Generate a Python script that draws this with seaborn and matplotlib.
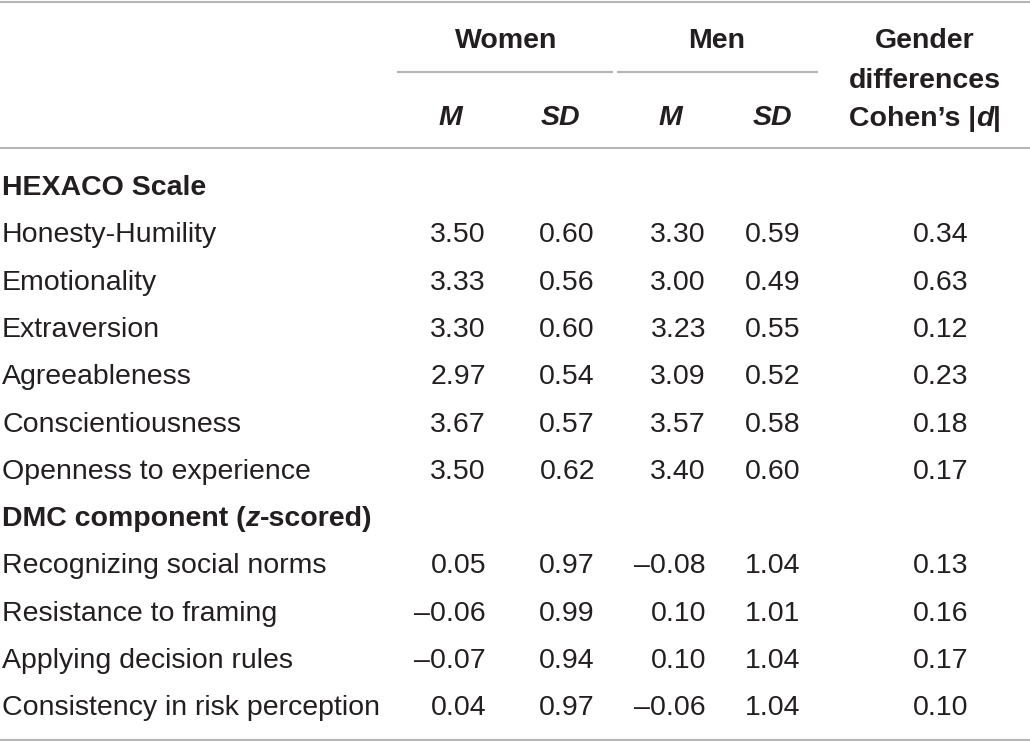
import matplotlib
matplotlib.use("Agg")
import matplotlib.pyplot as plt
import seaborn as sns

# table data
section_titles = ["HEXACO Scale", "DMC component"]
hexaco_rows = ["Honesty-Humility", "Emotionality", "Extraversion",
               "Agreeableness", "Conscientiousness", "Openness to experience"]
dmc_rows = ["Recognizing social norms", "Resistance to framing",
            "Applying decision rules", "Consistency in risk perception"]
women_m = [3.50, 3.33, 3.30, 2.97, 3.67, 3.50, 0.05, -0.06, -0.07, 0.04]
women_sd = [0.60, 0.56, 0.60, 0.54, 0.57, 0.62, 0.97, 0.99, 0.94, 0.97]
men_m = [3.30, 3.00, 3.23, 3.09, 3.57, 3.40, -0.08, 0.10, 0.10, -0.06]
men_sd = [0.59, 0.49, 0.55, 0.52, 0.58, 0.60, 1.04, 1.01, 1.04, 1.04]
cohen_d = [0.34, 0.63, 0.12, 0.23, 0.18, 0.17, 0.13, 0.16, 0.17, 0.10]

sns.set_theme(style="white")
plt.rcParams["font.family"] = ["Liberation Sans", "DejaVu Sans"]

TXT = "#231f20"
RULE = "#b5b5b5"
FS = 20.5

fig = plt.figure(figsize=(10.30, 7.41), dpi=100)
ax = fig.add_axes([0, 0, 1, 1])
ax.set_xlim(0, 1030)
ax.set_ylim(741, 0)
ax.axis("off")
renderer = fig.canvas.get_renderer()


def fmt(v):
    return f"{v:.2f}".replace("-", "\u2013")


def runs(x, y, parts, ha="left"):
    # parts: (text, style) drawn one after another, bold
    arts = []
    for s, style in parts:
        t = ax.text(0, y, s, fontsize=FS, fontweight="bold", fontstyle=style,
                    color=TXT, va="baseline", ha="left")
        arts.append(t)
    widths = [a.get_window_extent(renderer).width for a in arts]
    total = sum(widths)
    start = x - total / 2 if ha == "center" else x
    for a, w in zip(arts, widths):
        a.set_x(start)
        start += w


# rules
ax.hlines([2, 148, 740], 0, 1030, color=RULE, lw=1.5)
ax.hlines(72, 397, 613, color=RULE, lw=1.5)
ax.hlines(72, 617, 818, color=RULE, lw=1.5)

# header
hb = dict(fontsize=FS, fontweight="bold", color=TXT, va="baseline", ha="center")
ax.text(506, 48, "Women", **hb)
ax.text(717, 48, "Men", **hb)
ax.text(925, 48, "Gender", **hb)
ax.text(925, 88, "differences", **hb)
runs(925, 126, [("Cohen\u2019s |", "normal"), ("d", "italic"), ("|", "normal")], ha="center")
for cx, lab in [(450, "M"), (560, "SD"), (670, "M"), (772, "SD")]:
    ax.text(cx, 125, lab, fontstyle="italic", **hb)

# body
step = 47.3
y0 = 184 + 11
col_right = [486, 595, 706, 800]
d_right = 968
body = dict(fontsize=FS, color=TXT, va="baseline")

labels = [None] + hexaco_rows + [None] + dmc_rows
i = 0
for r, lab in enumerate(labels):
    y = y0 + r * step
    if lab is None:
        if r == 0:
            ax.text(2, y, section_titles[0], fontsize=FS, fontweight="bold",
                    color=TXT, va="baseline")
        else:
            runs(2, y, [(section_titles[1] + " (", "normal"), ("z", "italic"),
                        ("-scored)", "normal")])
        continue
    ax.text(2, y, lab, ha="left", **body)
    vals = [women_m[i], women_sd[i], men_m[i], men_sd[i]]
    for xr, v in zip(col_right, vals):
        ax.text(xr, y, fmt(v), ha="right", **body)
    ax.text(d_right, y, fmt(cohen_d[i]), ha="right", **body)
    i += 1

fig.savefig("out.png", dpi=100, facecolor="white")
